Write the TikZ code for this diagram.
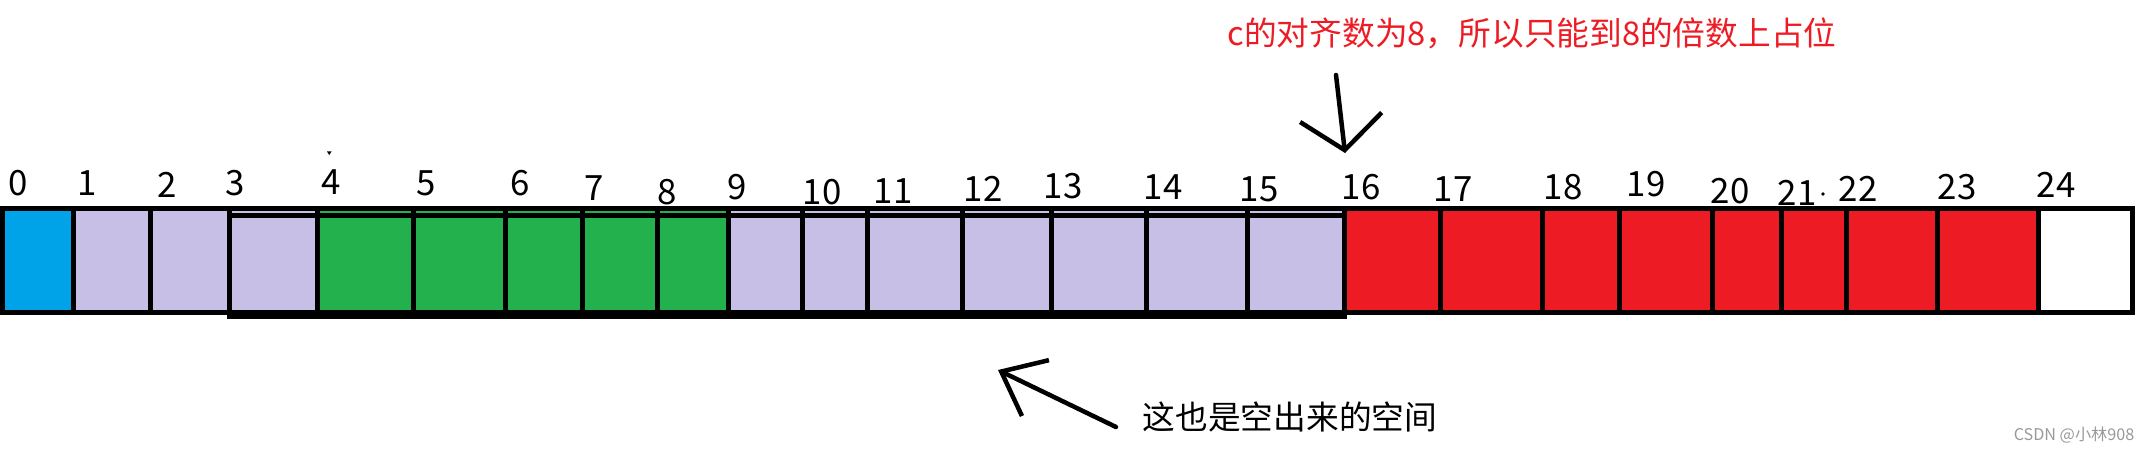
\documentclass[tikz,border=0pt]{standalone}
\usepackage{fontspec}
\setmainfont{Noto Sans CJK SC}
\usetikzlibrary{arrows.meta}
\definecolor{cblue}{HTML}{00A2E8}
\definecolor{clav}{HTML}{C8BFE7}
\definecolor{cgreen}{HTML}{22B14C}
\definecolor{cred}{HTML}{ED1C24}
\tikzset{
  cellline/.style={line width=0.05cm},
  digit/.style={inner sep=0pt,font=\fontsize{9.9}{11}\selectfont},
  note/.style={inner sep=0pt,font=\fontsize{9.3}{11}\selectfont},
  pointer/.style={line width=0.045cm,line cap=round,line join=round}
}

\begin{document}
\begin{tikzpicture}[x=0.01cm,y=-0.01cm]
            \useasboundingbox (0,0) rectangle (2146,452);
            % cells
            \foreach \l/\r/\c in {2/73.5/cblue,73.5/150.4/clav,150.4/229.3/clav,229.3/317.5/clav,
                317.5/413.5/cgreen,413.5/505.3/cgreen,505.3/582.5/cgreen,582.5/657.3/cgreen,657.3/728.7/cgreen,
                728.7/802.9/clav,802.9/867.1/clav,867.1/962.4/clav,962.4/1051.5/clav,1051.5/1146.3/clav,
                1146.3/1247.6/clav,1247.6/1344/clav,1344/1440.9/cred,1440.9/1542.5/cred,1542.5/1619.6/cred,
                1619.6/1712.6/cred,1712.6/1781.3/cred,1781.3/1846.5/cred,1846.5/1937.3/cred,1937.3/2038/cred,
                2038/2132.6/white}{
                \fill[\c] (\l,209) rectangle (\r,313);
            }
            \foreach \x in {73.5,150.4,229.3,317.5,413.5,505.3,582.5,657.3,728.7,802.9,867.1,962.4,1051.5,
                1146.3,1247.6,1344,1440.9,1542.5,1619.6,1712.6,1781.3,1846.5,1937.3,2038}{
                \draw[cellline] (\x,209)--(\x,313);
            }
            \draw[cellline] (2,209) rectangle (2132.6,313);
            \draw[cellline] (229.3,215.5) rectangle (1344,316.5);
            % offsets
            \foreach \i/\x/\y in {0/18/183,1/87/183,2/167/185,3/235/183,4/331/182,5/426/183,6/520/183,
                7/594/188,8/667/192,9/737/187,10/822/192,11/893/191,12/983/189,13/1063/186,14/1163/187,
                15/1259/189,16/1361/187,17/1453/189,18/1563/187,19/1646/184,20/1730/191,21/1797/193,
                22/1858/189,23/1957/187,24/2056/185}{
                \node[digit] (n\i) at (\x,\y) {\i};
            }
            \fill (327,151.5)--(331.5,151.5)--(329.2,155)--cycle;
            \fill (1823,194) circle (1.8);
            % notes
            \node[note,text=cred] (rule) at (1532,33) {c的对齐数为8，所以只能到8的倍数上占位};
            \coordinate (r1) at (1336,75);
            \coordinate (r2) at (1345,153);
            \draw[pointer,-{Straight Barb[length=0.33cm,width=0.82cm]}] (r1)--(r2);
            \node[note] (gap) at (1290,417) {这也是空出来的空间};
            \coordinate (g1) at (1116,427);
            \coordinate (g2) at (998,370);
            \draw[pointer,-{Straight Barb[length=0.38cm,width=0.62cm]}] (g1)--(g2);
            \node[inner sep=0pt,text=black!40,font=\fontsize{4.6}{5}\selectfont] (wm) at (2074,435) {CSDN @小林908};
        \end{tikzpicture}
\end{document}
